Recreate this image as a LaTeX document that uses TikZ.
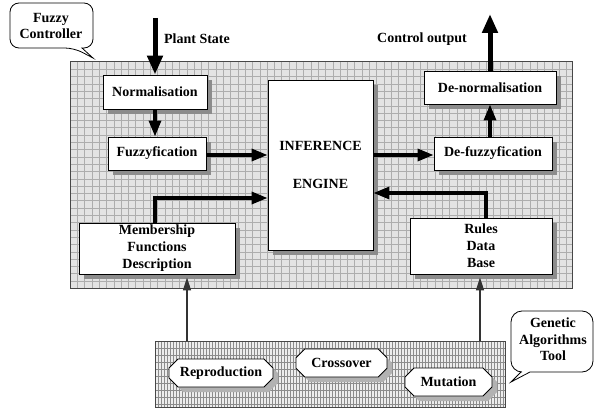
\documentclass[tikz,border=0pt]{standalone}
\usepackage{fontspec}
\setmainfont{Liberation Serif}
\usetikzlibrary{arrows.meta,shapes.misc,shadows}
\begin{document}
\begin{tikzpicture}[x=1pt,y=-1pt,
  font=\fontsize{14}{17}\selectfont\bfseries,
  box/.style={draw=black, line width=0.9pt, fill=white, align=center, inner sep=2pt,
    drop shadow={shadow xshift=5pt, shadow yshift=-5pt, fill=black!45, opacity=1}},
  octa/.style={chamfered rectangle, chamfered rectangle xsep=6pt,
    draw=black, line width=0.9pt, fill=white, inner sep=1pt,
    drop shadow={shadow xshift=5pt, shadow yshift=-5pt, fill=black!30, opacity=1}},
  flow/.style={line width=3.3pt, -{Triangle[length=16pt,width=12pt]}},
  bigflow/.style={line width=5pt, -{Triangle[length=19pt,width=15pt]}},
  thinflow/.style={line width=1.4pt, black!80, -{Triangle[length=13pt,width=8pt]}},
  bubble/.style={draw=black, line width=0.8pt, fill=white},
  gridln/.style={black!32, line width=0.45pt},
  hatchln/.style={black!45, line width=0.6pt},
  panel/.style={draw=black!72, line width=1pt, inner sep=0pt},
  lbl/.style={align=center, inner sep=0pt}
]
\useasboundingbox (0,0) rectangle (595,412);

% controller panel: grey background with a fine grid
\fill[black!11] (70,62) rectangle (572,288);
\foreach \i in {1,...,68} \draw[gridln] ({70+7.3*\i},62) -- ({70+7.3*\i},288);
\foreach \j in {1,...,30} \draw[gridln] (70,{62+7.3*\j}) -- (572,{62+7.3*\j});
\node[panel, minimum width=502, minimum height=226] (ctrl) at (321,175) {};

% genetic algorithm panel: vertical hatching
\fill[black!7] (155,341) rectangle (505,407);
\foreach \i in {1,...,116} \draw[hatchln] ({155+3*\i},341) -- ({155+3*\i},407);
\foreach \j in {1,...,9} \draw[hatchln] (155,{341+7*\j}) -- (505,{341+7*\j});
\node[panel, minimum width=350, minimum height=66] (ga) at (330,374) {};

% controller blocks
\node[box, minimum width=104, minimum height=34] (norm) at (155,92) {Normalisation};
\node[box, minimum width=98, minimum height=33] (fuzz) at (157,153.5) {Fuzzyfication};
\node[box, minimum width=105, minimum height=170] (ie) at (320.5,165) {INFERENCE\\[21pt]ENGINE};
\node[box, minimum width=156, minimum height=51] (memb) at (157,248.5) {Membership\\Functions\\Description};
\node[box, minimum width=132, minimum height=33] (denorm) at (490,87.5) {De-normalisation};
\node[box, minimum width=118, minimum height=33] (defz) at (493,153.5) {De-fuzzyfication};
\node[box, minimum width=142, minimum height=56] (rules) at (481,246) {Rules\\Data\\Base};

% genetic operators
\node[octa, minimum width=104, minimum height=28] (rep) at (221,373) {Reproduction};
\node[octa, minimum width=91, minimum height=28] (cross) at (341.5,363) {Crossover};
\node[octa, minimum width=87, minimum height=28] (mut) at (448.5,382) {Mutation};

% external signals
\coordinate (plantin) at (155,18);
\coordinate (ctrlout) at (490,14);
\node[lbl] (plantlbl) at (197,39) {Plant State};
\node[lbl] (outlbl) at (422,39) {Control output};

% connectors
\draw[bigflow] (plantin) -- (norm.north);
\draw[flow] (norm.south) -- (norm.south |- fuzz.north);
\draw[flow] (fuzz.east |- 0,155) -- (ie.west |- 0,155);
\draw[flow] ([xshift=-2pt]memb.north) |- ([yshift=-33pt]ie.west);
\draw[flow] (ie.east |- 0,155) -- (defz.west |- 0,155);
\draw[flow] (denorm.south |- defz.north) -- (denorm.south);
\draw[bigflow] (denorm.north) -- (ctrlout);
\draw[flow] ([xshift=5pt]rules.north) |- ([yshift=-28pt]ie.east);
\draw[thinflow] ([xshift=30pt]memb.south |- ga.north) -- ([xshift=30pt, yshift=-3pt]memb.south);
\draw[thinflow] ([xshift=-1pt]rules.south |- ga.north) -- ([xshift=-1pt, yshift=-3pt]rules.south);

% callout bubbles
\draw[bubble] (82,48) [rounded corners=9pt] -- (93,48) -- (93,3) -- (10,3) -- (10,48) -- (74,48)
  [sharp corners] -- (93,58) -- cycle;
\node[lbl, font=\fontsize{14}{16}\selectfont\bfseries] (fctitle) at (51,25.5) {Fuzzy\\Controller};

\draw[bubble] (530,372) [rounded corners=11pt] -- (593,372) -- (593,311) -- (511,311) -- (511,372)
  [sharp corners] -- (521,372) -- (511,382) -- cycle;
\node[lbl, font=\fontsize{14}{16.5}\selectfont\bfseries] (gatitle) at (553,339.5) {Genetic\\Algorithms\\Tool};
\end{tikzpicture}
\end{document}
